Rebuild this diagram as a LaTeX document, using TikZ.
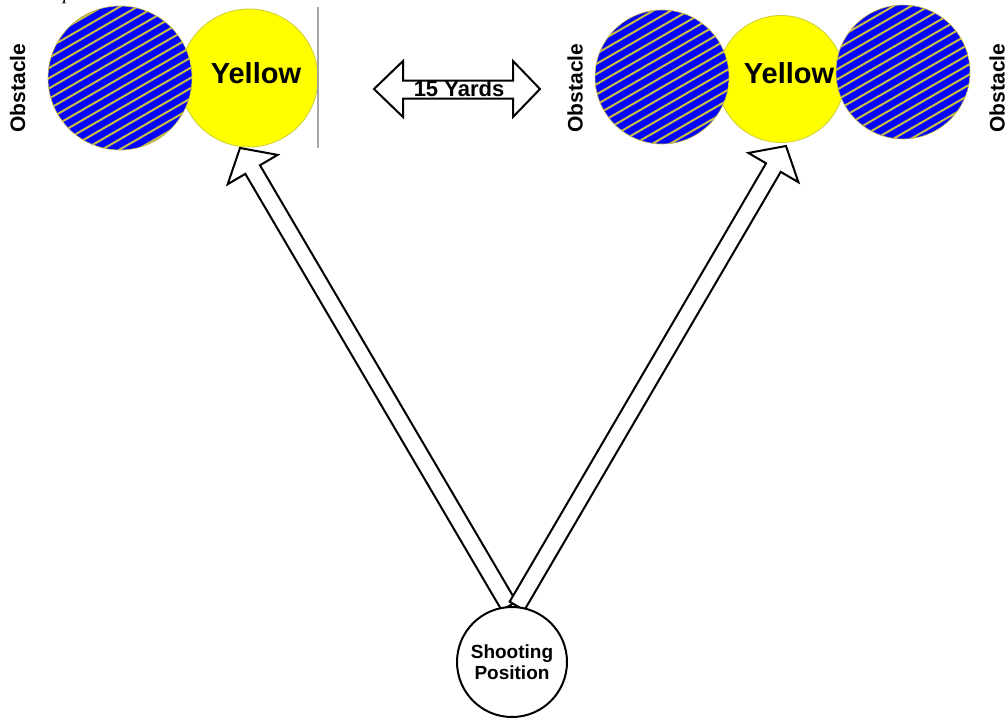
\documentclass[tikz,border=0pt]{standalone}
\usepackage{fontspec}
\setmainfont{Liberation Sans}
\newfontfamily\tnrfont{Liberation Serif}
\usetikzlibrary{calc}
\definecolor{obsblue}{RGB}{5,5,250}
\definecolor{stripecol}{RGB}{200,190,70}
\definecolor{ylw}{RGB}{255,255,0}
\definecolor{ylwedge}{RGB}{205,205,60}
\definecolor{edgegray}{RGB}{165,165,165}
\tikzset{
  yellowball/.style={fill=ylw,draw=ylwedge,line width=0.8pt},
  stripe/.style={stripecol,line width=2pt},
  lbl/.style={font=\bfseries\fontsize{21}{22}\selectfont,inner sep=0pt},
  ylbl/.style={font=\bfseries\fontsize{29}{30}\selectfont,inner sep=0pt,anchor=base},
  outline/.style={draw=black,line width=2pt,fill=white,line join=miter},
  shootnode/.style={circle,draw=black,line width=2pt,fill=white,minimum size=110pt,inner sep=0pt,align=center,font=\bfseries\fontsize{19}{21}\selectfont}
}
\newcommand\obstball[3]{% center x, center y, radius
  \begin{scope}
    \clip (#1,#2) circle (#3);
    \fill[obsblue] (#1,#2) circle (#3);
    \foreach \k in {-16,...,16}
      \draw[stripe] ($(#1,#2)+(-120,\k*10.2+69.3)$) -- ++(240,-138.6);
  \end{scope}
  \draw[stripecol,line width=0.6pt] (#1,#2) circle (#3);
}
\newcommand\bigarr[2]{% tail, tip
  \coordinate (hb) at ($(#2)!25pt!(#1)$);
  \draw[outline]
    ($(#1)!8.5pt!90:(#2)$) --
    ($(hb)!8.5pt!-90:(#1)$) --
    ($(hb)!29pt!-90:(#1)$) --
    (#2) --
    ($(hb)!29pt!90:(#1)$) --
    ($(hb)!8.5pt!90:(#1)$) --
    ($(#1)!8.5pt!-90:(#2)$) -- cycle;
}
\begin{document}
\begin{tikzpicture}[x=1pt,y=-1pt]
\useasboundingbox (0,0) rectangle (1008,717);
\fill[white] (0,0) rectangle (1008,717);

% cut caption fragment at top
\node[font=\tnrfont\itshape\fontsize{20}{22}\selectfont,inner sep=0pt,anchor=base west] (cap) at (63,0) {p};

% left group
\draw[yellowball] (249,78) circle (69);
\node[ylbl] (yl) at (256,83) {Yellow};
\obstball{120}{78}{72}
\draw[edgegray,line width=1.5pt] (318,7) -- (318,148);
\node[lbl,rotate=90] (obl) at (17.5,88) {Obstacle};

% right group
\draw[yellowball] (781,79) circle (63.5);
\node[ylbl] (yr) at (789,83) {Yellow};
\obstball{662}{77}{67}
\obstball{903}{72}{67}
\node[lbl,rotate=90] (obm) at (575,88) {Obstacle};
\node[lbl,rotate=90] (obr) at (997,88) {Obstacle};

% 15 yards double arrow
\draw[outline] (374,89) -- (403,61) -- (403,80.5) -- (513,80.5) -- (513,61) -- (540,89)
  -- (513,117) -- (513,98.5) -- (403,98.5) -- (403,117) -- cycle;
\node[lbl,anchor=base,font=\bfseries\fontsize{22}{22}\selectfont] (yards) at (459,96) {15 Yards};

% big arrows
\coordinate (tL) at (509,606);
\coordinate (pL) at (240,148);
\coordinate (tR) at (517,606);
\coordinate (pR) at (786,146);
\bigarr{tL}{pL}
\bigarr{tR}{pR}

% shooting position
\node[shootnode] (S) at (512,662) {Shooting\\Position};
\end{tikzpicture}
\end{document}
